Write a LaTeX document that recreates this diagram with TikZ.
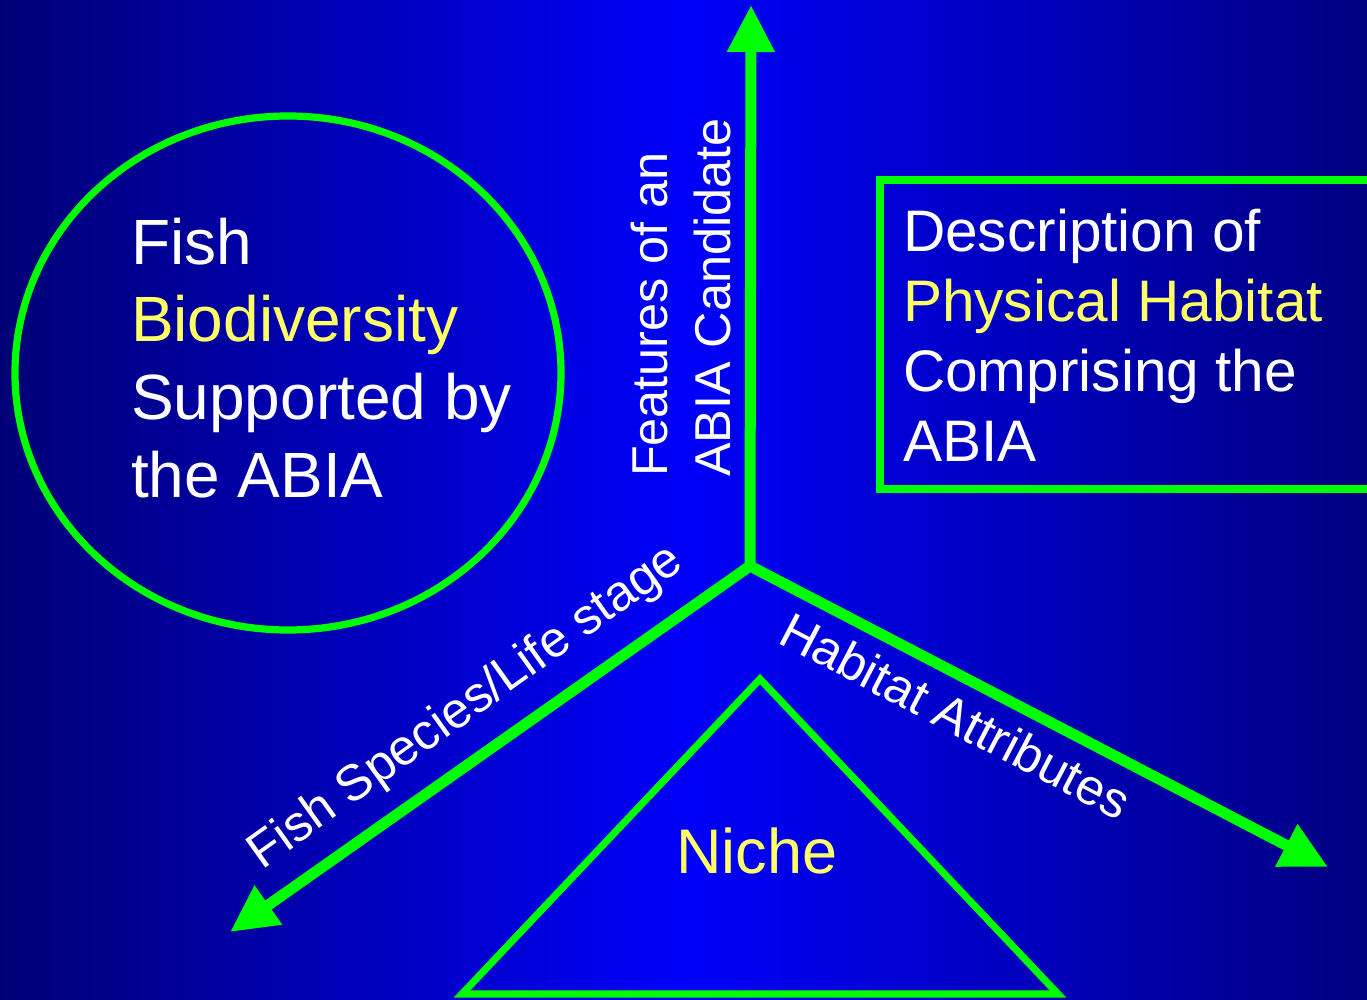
\documentclass[tikz,border=0pt]{standalone}
\usepackage{fontspec}
\setmainfont{Liberation Sans}
\usetikzlibrary{arrows.meta,shapes.geometric}
\definecolor{grn}{RGB}{0,255,0}
\definecolor{ylw}{RGB}{255,255,102}
\definecolor{navyL}{RGB}{0,0,118}
\definecolor{blueM}{RGB}{0,0,250}
\definecolor{navyR}{RGB}{0,0,128}
\begin{document}
\begin{tikzpicture}[x=0.5pt,y=-0.5pt,
  wtext/.style={text=white, inner sep=0pt, outer sep=0pt},
  ytext/.style={text=ylw, inner sep=0pt, outer sep=0pt},
  bigfont/.style={font=\fontsize{32}{38}\selectfont},
  nichefont/.style={font=\fontsize{31.5}{38}\selectfont},
  boxfont/.style={font=\fontsize{29.3}{35}\selectfont},
  smallfont/.style={font=\fontsize{25.2}{30}\selectfont},
  axis/.style={draw=grn, line width=5.5pt, -{Triangle[length=23.5pt,width=22.5pt]}},
  outline/.style={draw=grn, line width=3.6pt}]
\path[use as bounding box] (0,0) rectangle (1367,1000);
\clip (0,0) rectangle (1367,1000);
\shade[left color=navyL, right color=navyR, middle color=blueM] (0,0) rectangle (1367,1000);

% circle
\node[outline, ellipse, minimum width=273pt, minimum height=257pt, inner sep=0pt, outer sep=0pt] (bio) at (288,373) {};
\node[wtext,bigfont,anchor=base west] (b1) at (131,265) {Fish};
\node[ytext,bigfont,anchor=base west] (b2) at (131,342) {Biodiversity};
\node[wtext,bigfont,anchor=base west] (b3) at (131,420) {Supported by};
\node[wtext,bigfont,anchor=base west] (b4) at (131,497) {the ABIA};

% box
\node[outline, rectangle, minimum width=262pt, minimum height=154.5pt, inner sep=0pt, outer sep=0pt] (hab) at (1142,334.5) {};
\node[wtext,boxfont,anchor=base west] (h1) at (903,252) {Description of};
\node[ytext,boxfont,anchor=base west] (h2) at (903,322) {Physical Habitat};
\node[wtext,boxfont,anchor=base west] (h3) at (903,392) {Comprising the};
\node[wtext,boxfont,anchor=base west] (h4) at (903,462) {ABIA};

% triangle
\draw[outline, line join=miter] (760,679) -- (1058,994) -- (462,994) -- cycle;
\node[ytext,nichefont,anchor=base] (niche) at (757,873) {Niche};

% axes
\coordinate (O) at (750,566);
\coordinate (up) at (751,5);
\coordinate (dl) at (230,932);
\coordinate (dr) at (1328,867);
\draw[axis] (O) -- (up);
\draw[axis] (O) -- (dl);
\draw[axis] (O) -- (dr);

% axis labels
\node[wtext,smallfont,rotate=90,anchor=base west] (f1) at (667,477) {Features of an};
\node[wtext,smallfont,rotate=90,anchor=base west] (f2) at (730,477) {ABIA Candidate};
\node[wtext,smallfont,rotate=35.6,anchor=base west] (fs) at (262,870) {Fish Species/Life stage};
\node[wtext,smallfont,rotate=-27.6,anchor=base west] (ha) at (776,642) {Habitat Attributes};
\end{tikzpicture}
\end{document}
